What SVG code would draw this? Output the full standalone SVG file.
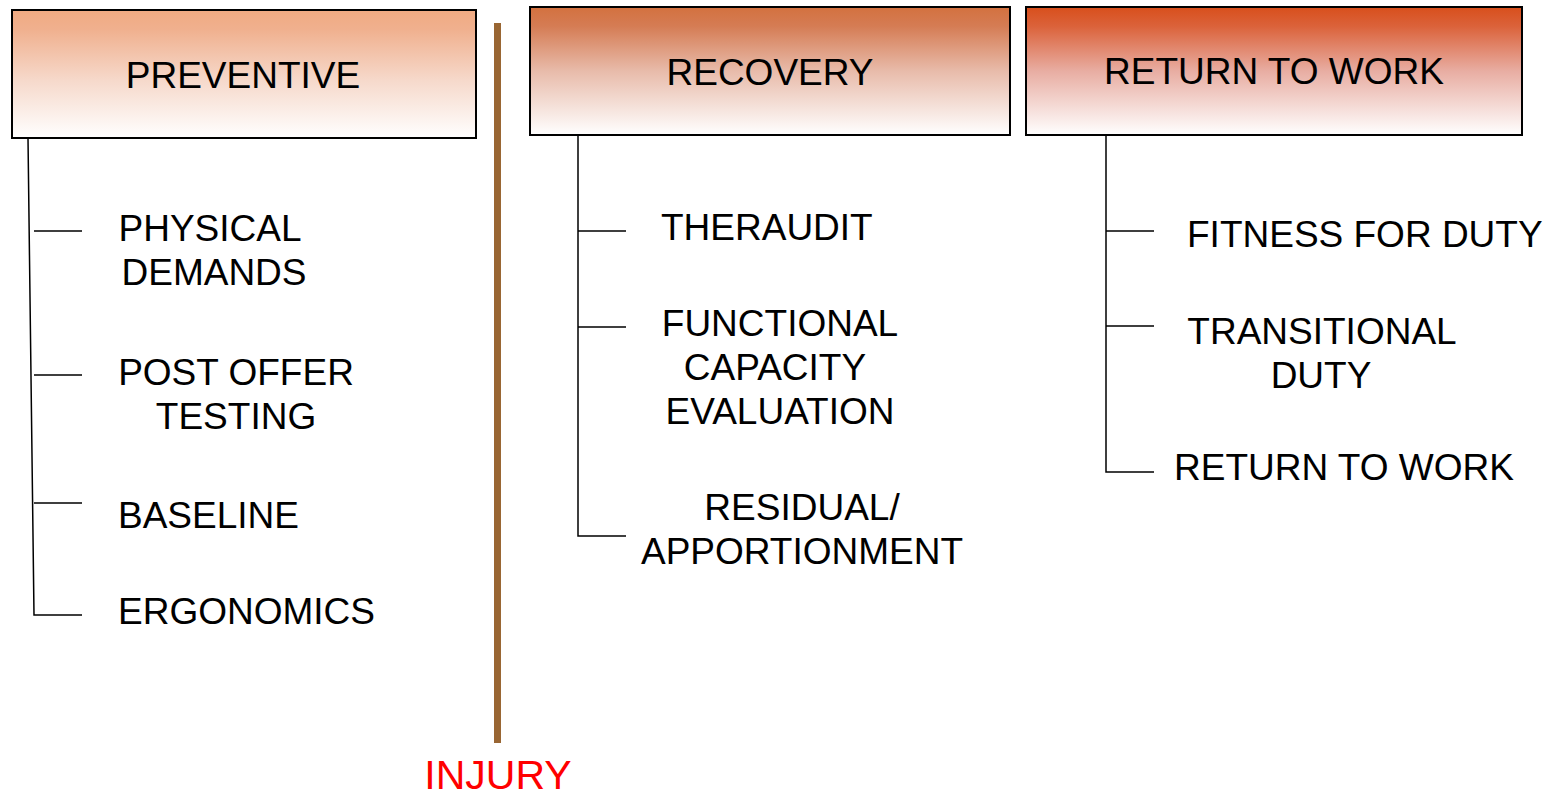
<svg xmlns="http://www.w3.org/2000/svg" width="1557" height="796" viewBox="0 0 1557 796">
<defs>
<linearGradient id="gPrev" x1="0" y1="0" x2="0" y2="1">
<stop offset="0" stop-color="#F0AA82"/>
<stop offset="0.15" stop-color="#F0B08E"/>
<stop offset="0.55" stop-color="#F6D9CB"/>
<stop offset="1" stop-color="#FFFFFF"/>
</linearGradient>
<linearGradient id="gRec" x1="0" y1="0" x2="0" y2="1">
<stop offset="0" stop-color="#D3713F"/>
<stop offset="0.15" stop-color="#D57C54"/>
<stop offset="0.5" stop-color="#E8BBAA"/>
<stop offset="1" stop-color="#FFFFFF"/>
</linearGradient>
<linearGradient id="gRtw" x1="0" y1="0" x2="0" y2="1">
<stop offset="0" stop-color="#D84F1C"/>
<stop offset="0.15" stop-color="#DB623A"/>
<stop offset="0.5" stop-color="#E8ADA2"/>
<stop offset="1" stop-color="#FFFFFF"/>
</linearGradient>
</defs>
<style>
.box{stroke:#000;stroke-width:2}
.t{font-family:"Liberation Sans",Arial,sans-serif;font-size:37px;fill:#000}
.c{text-anchor:middle}
.ln{stroke:#000;stroke-width:1.5;fill:none}
</style>
<g id="injury-bar">
<rect x="494" y="23" width="7" height="720" fill="#996633"/>
<text x="498" y="789" font-family="Liberation Sans,Arial,sans-serif" font-size="41" fill="#FF0000" text-anchor="middle">INJURY</text>
</g>
<g id="connectors">
<path class="ln" d="M28 138 L34 615 L82 615 M34 231 H82 M34 375 H82 M34 503 H82"/>
<path class="ln" d="M578 135 V536 H626 M578 231 H626 M578 327 H626"/>
<path class="ln" d="M1106 135 V472 H1154 M1106 231 H1154 M1106 326 H1154"/>
</g>
<g id="preventive">
<rect class="box" x="12" y="10" width="464" height="128" fill="url(#gPrev)"/>
<text class="t c" x="243" y="88">PREVENTIVE</text>
</g>
<g id="recovery">
<rect class="box" x="530" y="7" width="480" height="128" fill="url(#gRec)"/>
<text class="t c" x="770" y="85">RECOVERY</text>
</g>
<g id="return-to-work">
<rect class="box" x="1026" y="7" width="496" height="128" fill="url(#gRtw)"/>
<text class="t c" x="1274" y="84">RETURN TO WORK</text>
</g>
<g id="physical-demands">
<text class="t c" x="210" y="241">PHYSICAL</text>
<text class="t c" x="214" y="285">DEMANDS</text>
</g>
<g id="post-offer-testing">
<text class="t c" x="236" y="385">POST OFFER</text>
<text class="t c" x="236" y="429">TESTING</text>
</g>
<g id="baseline">
<text class="t" x="118" y="528">BASELINE</text>
</g>
<g id="ergonomics">
<text class="t" x="118" y="624">ERGONOMICS</text>
</g>
<g id="theraudit">
<text class="t" x="661" y="240">THERAUDIT</text>
</g>
<g id="fce">
<text class="t c" x="780" y="336">FUNCTIONAL</text>
<text class="t c" x="775" y="380">CAPACITY</text>
<text class="t c" x="780" y="424">EVALUATION</text>
</g>
<g id="residual">
<text class="t c" x="802" y="520">RESIDUAL/</text>
<text class="t c" x="802" y="564">APPORTIONMENT</text>
</g>
<g id="fitness-for-duty">
<text class="t" x="1187" y="247">FITNESS FOR DUTY</text>
</g>
<g id="transitional-duty">
<text class="t c" x="1322" y="344">TRANSITIONAL</text>
<text class="t c" x="1321" y="388">DUTY</text>
</g>
<g id="rtw-item">
<text class="t" x="1174" y="480">RETURN TO WORK</text>
</g>
</svg>
